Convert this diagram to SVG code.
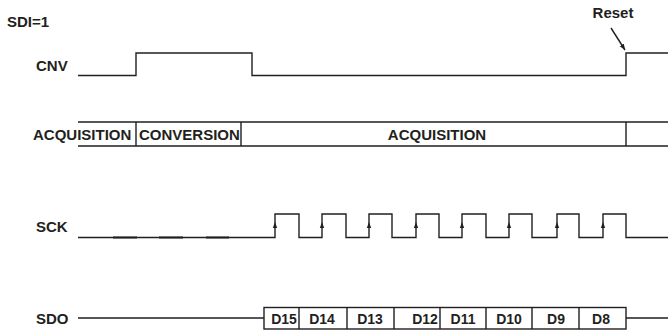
<svg xmlns="http://www.w3.org/2000/svg" width="668" height="330" viewBox="0 0 668 330">
<style>
text{font-family:"Liberation Sans",Arial,sans-serif;font-weight:bold;font-size:15px;fill:#231f20}
.w{fill:none;stroke:#231f20;stroke-width:1.4}
.d{font-size:14px;text-anchor:middle}
</style>
<defs>
<marker id="ah" viewBox="0 0 10 10" refX="10" refY="5" markerWidth="6" markerHeight="6" orient="auto" markerUnits="userSpaceOnUse"><path d="M0,1 L10,5 L0,9 Z" fill="#231f20"/></marker>
</defs>
<g id="labels">
<text x="7" y="27">SDI=1</text>
<text x="36" y="71">CNV</text>
<text x="33" y="139.5">ACQUISITION</text>
<text x="139" y="139.5">CONVERSION</text>
<text x="437" y="139.5" text-anchor="middle">ACQUISITION</text>
<text x="36" y="232">SCK</text>
<text x="36" y="324">SDO</text>
<text x="613" y="18" text-anchor="middle">Reset</text>
</g>
<g id="cnv">
<path class="w" d="M78,75.5 H136 V53 H252 V75.5 H626 V53 H668"/>
</g>
<g id="phase">
<path class="w" d="M78,122 H668 M78,146 H668 M136,122 V146 M241,122 V146 M626,122 V146"/>
</g>
<g id="sck">
<path class="w" d="M78,237.5 H275 V214 H299 V237.5 H322 V214 H346 V237.5 H369 V214 H392 V237.5 H416 V214 H439 V237.5 H462 V214 H486 V237.5 H509 V214 H532 V237.5 H557 V214 H579 V237.5 H603 V214 H626 V237.5 H668"/>
<path d="M113,237.5 H137 M159,237.5 H183 M206,237.5 H229" stroke="#231f20" stroke-width="1.8"/>
<g stroke="none" fill="#231f20">
<path d="M275,222 l-2.2,6 h4.4 z"/>
<path d="M322,222 l-2.2,6 h4.4 z"/>
<path d="M369,222 l-2.2,6 h4.4 z"/>
<path d="M416,222 l-2.2,6 h4.4 z"/>
<path d="M462,222 l-2.2,6 h4.4 z"/>
<path d="M509,222 l-2.2,6 h4.4 z"/>
<path d="M557,222 l-2.2,6 h4.4 z"/>
<path d="M603,222 l-2.2,6 h4.4 z"/>
</g>
</g>
<g id="sdo">
<path class="w" d="M78,318 H264 M626,318 H668"/>
<rect class="w" x="264" y="307.5" width="362" height="21.5"/>
<path class="w" d="M299,307.5 V329 M347,307.5 V329 M394,307.5 V329 M440,307.5 V329 M486,307.5 V329 M532,307.5 V329 M579,307.5 V329"/>
<text class="d" x="284" y="324">D15</text>
<text class="d" x="322" y="324">D14</text>
<text class="d" x="370" y="324">D13</text>
<text class="d" x="425" y="324">D12</text>
<text class="d" x="463" y="324">D11</text>
<text class="d" x="509" y="324">D10</text>
<text class="d" x="556" y="324">D9</text>
<text class="d" x="601" y="324">D8</text>
</g>
<g id="connectors">
<path class="w" d="M611,28 L625,50" marker-end="url(#ah)"/>
</g>
</svg>
